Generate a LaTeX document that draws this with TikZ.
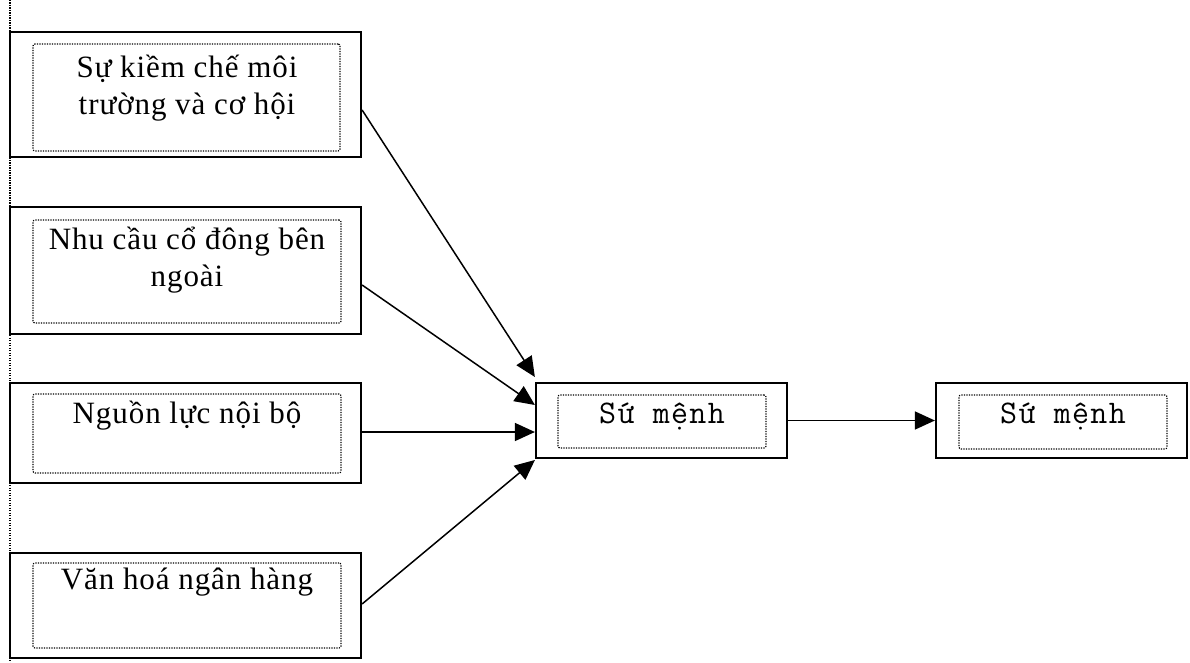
\documentclass[tikz,border=0pt]{standalone}
\usepackage{fontspec}
\usetikzlibrary{arrows.meta}
\newfontfamily\lblfont{Liberation Serif}[LetterSpace=3]
\newfontfamily\monofont{Latin Modern Mono}[LetterSpace=4]
\tikzset{
  outerbox/.style={draw, line width=2.2pt, rectangle, inner sep=0pt},
  dotbox/.style={draw, line width=1.2pt, dash pattern=on 1.2pt off 1.3pt, rectangle, rounded corners=2pt, inner sep=0pt},
  lbl/.style={font=\lblfont\fontsize{31}{37}\selectfont, align=center, inner sep=0pt},
  mlbl/.style={font=\monofont\fontsize{33}{37}\selectfont, inner sep=0pt},
  conn/.style={line width=1.5pt, -{Triangle[length=20pt,width=18pt]}},
}
\newcommand{\boxat}[6]{% name, x1, y1, x2, y2, style
  \node[#6, minimum width={#4-#2}, minimum height={#5-#3}] (#1) at ({(#2+#4)/2},{(#3+#5)/2}) {};}
\begin{document}
\begin{tikzpicture}[x=1pt,y=-1pt]
\useasboundingbox (0,0) rectangle (1190,663);
% left dotted guide line
\coordinate (gtop) at (10,0);
\coordinate (gbot) at (10,663);
\draw[line width=1.2pt, dash pattern=on 1.2pt off 1.3pt] (gtop) -- (gbot);
% left boxes
\boxat{o1}{10}{32}{361}{157}{outerbox}
\boxat{d1}{33}{44}{340}{151}{dotbox}
\node[lbl] (t1) at (187,88) {Sự kiềm chế môi\\trường và cơ hội};
\boxat{o2}{10}{207}{361}{334}{outerbox}
\boxat{d2}{33}{220}{341}{323}{dotbox}
\node[lbl] (t2) at (187,260) {Nhu cầu cổ đông bên\\ngoài};
\boxat{o3}{10}{383}{361}{483}{outerbox}
\boxat{d3}{33}{394}{341}{473}{dotbox}
\node[lbl] (t3) at (187,416) {Nguồn lực nội bộ};
\boxat{o4}{10}{553}{361}{658}{outerbox}
\boxat{d4}{33}{563}{341}{648}{dotbox}
\node[lbl] (t4) at (187,582) {Văn hoá ngân hàng};
% middle box
\boxat{m}{536}{383}{787}{458}{outerbox}
\boxat{dm}{558}{395}{766}{448}{dotbox}
\node[mlbl] (tm) at (662,417) {Sứ mệnh};
% right box
\boxat{r}{936}{383}{1187}{458}{outerbox}
\boxat{dr}{959}{395}{1167}{449}{dotbox}
\node[mlbl] (tr) at (1063,417) {Sứ mệnh};
% connector anchors
\coordinate (s1) at (o1.east |- 0,110);
\coordinate (s2) at (o2.east |- 0,285);
\coordinate (s3) at (o3.east |- 0,432);
\coordinate (s4) at (o4.east |- 0,604);
\coordinate (e1) at (m.west |- 0,377);
\coordinate (e2) at (m.west |- 0,405);
\coordinate (e3) at (m.west |- 0,432);
\coordinate (e4) at (m.west |- 0,460);
\draw[conn] (s1) -- (e1);
\draw[conn] (s2) -- (e2);
\draw[conn] (s3) -- (e3);
\draw[conn] (s4) -- (e4);
\draw[conn] (m.east) -- (r.west);
\end{tikzpicture}
\end{document}
